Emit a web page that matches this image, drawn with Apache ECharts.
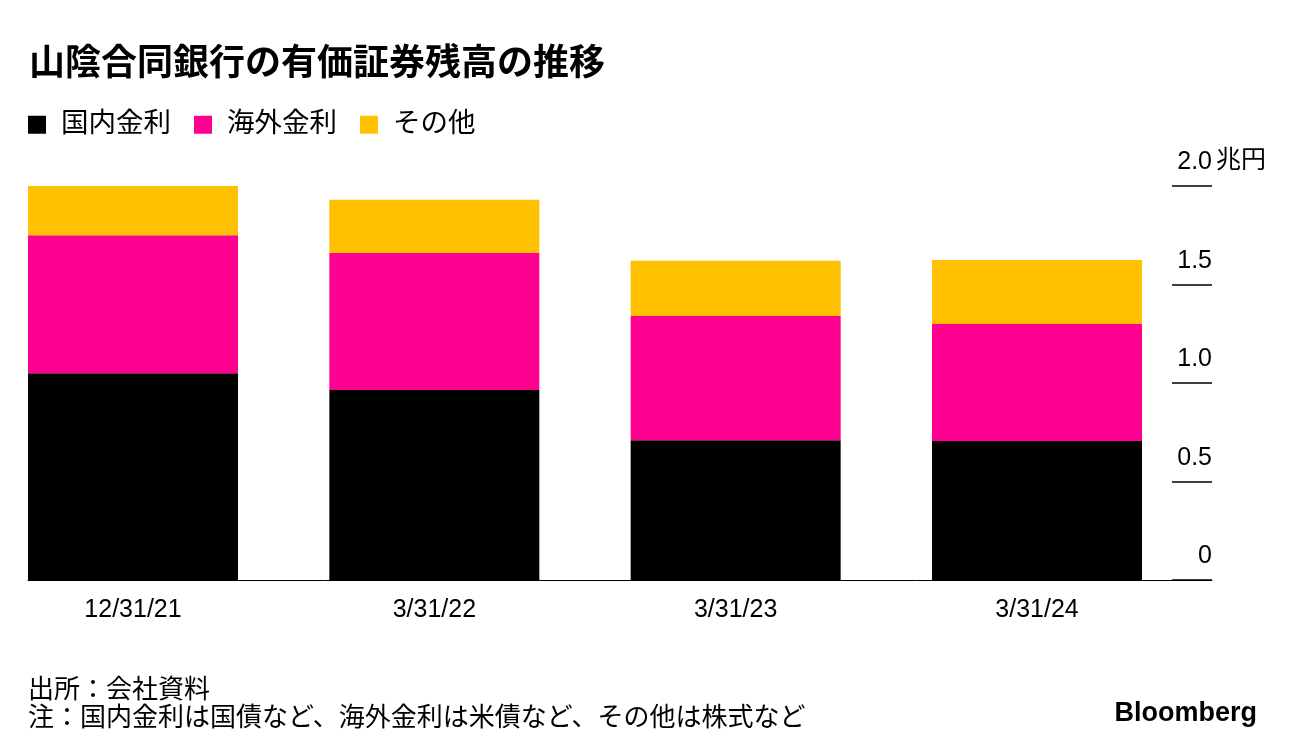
<!DOCTYPE html>
<html>
<head>
<meta charset="utf-8">
<script src="https://cdn.jsdelivr.net/npm/echarts@6/dist/echarts.min.js"></script>
<style>
html,body{margin:0;padding:0;background:#fff;}
#chart{width:1296px;height:756px;}
</style>
</head>
<body>
<div id="chart"></div>
<script>
const categories = ['12/31/21', '3/31/22', '3/31/23', '3/31/24'];
const domestic = [1.05, 0.965, 0.71, 0.705];
const foreign = [0.70, 0.695, 0.63, 0.595];
const other = [0.26, 0.27, 0.28, 0.325];
const yTicks = [0, 0.5, 1.0, 1.5, 2.0];
const seriesNames = ['国内金利', '海外金利', 'その他'];
const titleText = '山陰合同銀行の有価証券残高の推移';
const sourceText = '出所：会社資料';
const noteText = '注：国内金利は国債など、海外金利は米債など、その他は株式など';
const unitText = '兆円';

const FONT = "'Liberation Sans', 'Noto Sans CJK JP', sans-serif";
const colors = ['#000000', '#FF0090', '#FFC000'];

const chart = echarts.init(document.getElementById('chart'));
const option = {
  backgroundColor: '#ffffff',
  animation: false,
  textStyle: { fontFamily: FONT, color: '#000' },
  title: [
    { text: titleText, left: 24, top: 42,
      textStyle: { fontFamily: FONT, fontSize: 36, fontWeight: 'bold', color: '#000' } },
    { text: sourceText, left: 23, top: 673,
      textStyle: { fontFamily: FONT, fontSize: 26, fontWeight: 'normal', color: '#000' } },
    { text: noteText, left: 23, top: 701,
      textStyle: { fontFamily: FONT, fontSize: 26, fontWeight: 'normal', color: '#000' } },
    { text: 'Bloomberg', right: 34, top: 695,
      textStyle: { fontFamily: FONT, fontSize: 27, fontWeight: 'bold', color: '#000' } }
  ],
  graphic: [
    { type: 'text', left: 1216, top: 149,
      style: { text: unitText, font: "25px 'Liberation Sans', 'Noto Sans CJK JP', sans-serif", fill: '#000' } }
  ],
  legend: {
    left: 23, top: 106,
    icon: 'rect', itemWidth: 18, itemHeight: 18, itemGap: 23,
    data: seriesNames,
    textStyle: { fontFamily: FONT, fontSize: 27.5, color: '#000', padding: [0, 0, 0, 10] }
  },
  grid: [
    { left: 133, right: 259, top: 186, bottom: 176 },
    { left: 28, right: 84, top: 186, bottom: 176 }
  ],
  xAxis: [
    { gridIndex: 0, type: 'category', data: categories, boundaryGap: false,
      axisLine: { show: false }, axisTick: { show: false },
      axisLabel: { fontFamily: FONT, fontSize: 25, color: '#000', margin: 18 } },
    { gridIndex: 1, type: 'value', min: 0, max: 1,
      axisLine: { show: true, onZero: false, lineStyle: { color: '#000', width: 1 } },
      axisTick: { show: false }, axisLabel: { show: false }, splitLine: { show: false } }
  ],
  yAxis: [
    { gridIndex: 0, type: 'value', min: 0, max: 2, interval: 0.5, show: false },
    { gridIndex: 1, type: 'value', position: 'right', min: 0, max: 2, interval: 0.5,
      axisLine: { show: false, onZero: false },
      axisTick: { show: true, inside: true, length: 40, lineStyle: { color: '#000', width: 1.5 } },
      splitLine: { show: false },
      axisLabel: { inside: true, margin: 0, fontFamily: FONT, fontSize: 25, color: '#000',
        align: 'right', verticalAlign: 'bottom', padding: [0, 0, 11, 0],
        formatter: function (v) { return v === 0 ? '0' : v.toFixed(1); } } }
  ],
  series: [
    { name: seriesNames[0], type: 'bar', stack: 'a', data: domestic, barWidth: 210,
      itemStyle: { color: colors[0] }, xAxisIndex: 0, yAxisIndex: 0 },
    { name: seriesNames[1], type: 'bar', stack: 'a', data: foreign, barWidth: 210,
      itemStyle: { color: colors[1] }, xAxisIndex: 0, yAxisIndex: 0 },
    { name: seriesNames[2], type: 'bar', stack: 'a', data: other, barWidth: 210,
      itemStyle: { color: colors[2] }, xAxisIndex: 0, yAxisIndex: 0 }
  ]
};
chart.setOption(option);
</script>
</body>
</html>
